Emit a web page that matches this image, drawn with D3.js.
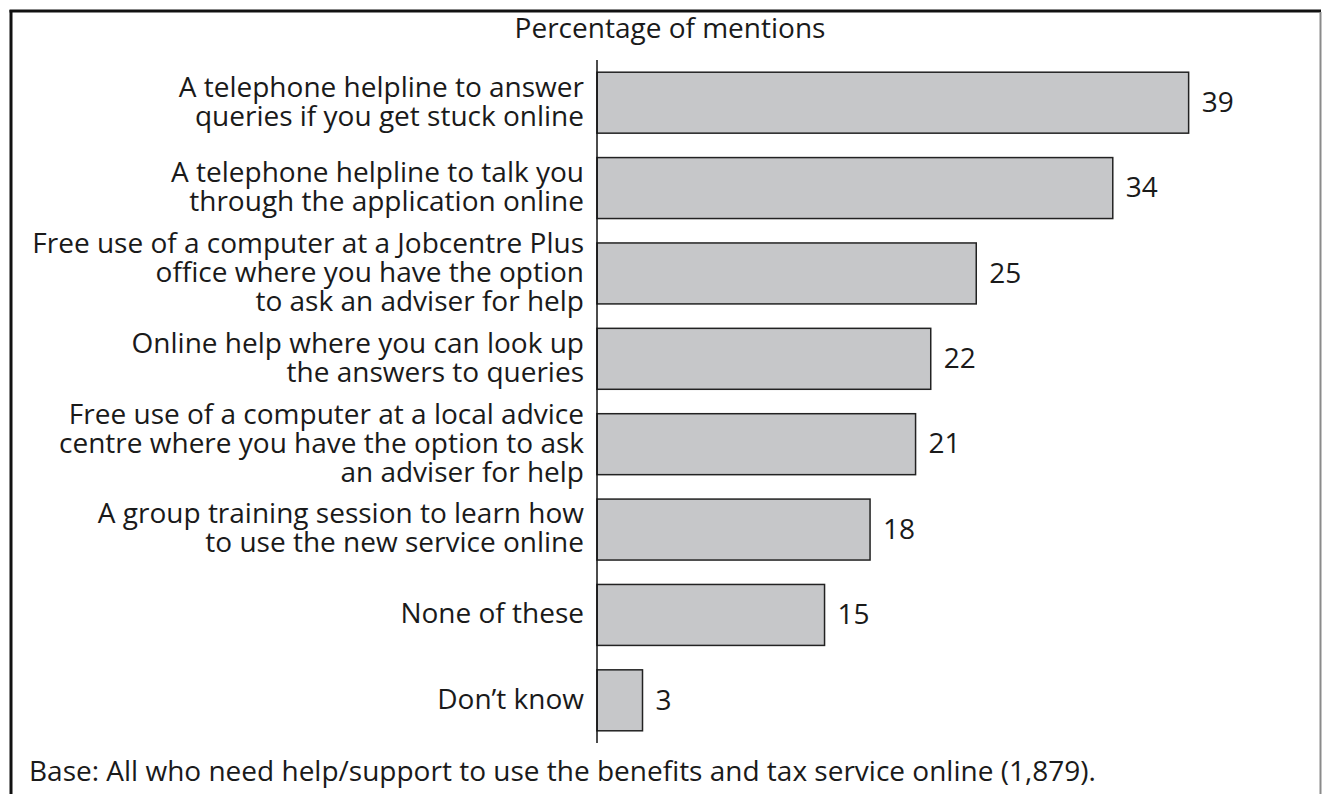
<!DOCTYPE html>
<html>
<head>
<meta charset="utf-8">
<script src="https://cdn.jsdelivr.net/npm/d3@7"></script>
<style>
  html, body { margin: 0; padding: 0; background: #fff; }
  svg { display: block; }
  text { font-family: "Open Sans", sans-serif; fill: #1a1a1a; }
</style>
</head>
<body>
<svg id="chart" width="1322" height="794"></svg>
<script>
// ---- data ----
const categories = [
  "A telephone helpline to answer\nqueries if you get stuck online",
  "A telephone helpline to talk you\nthrough the application online",
  "Free use of a computer at a Jobcentre Plus\noffice where you have the option\nto ask an adviser for help",
  "Online help where you can look up\nthe answers to queries",
  "Free use of a computer at a local advice\ncentre where you have the option to ask\nan adviser for help",
  "A group training session to learn how\nto use the new service online",
  "None of these",
  "Don\u2019t know"
];
const values = [39, 34, 25, 22, 21, 18, 15, 3];
const title = "Percentage of mentions";
const baseNote = "Base: All who need help/support to use the benefits and tax service online (1,879).";

// ---- layout ----
const svg = d3.select("#chart");
const W = 1322, H = 794;
const x0 = 597, yTop = 60, yBot = 743;
const pxPerUnit = 15.17;

const x = d3.scaleLinear().domain([0, 39]).range([x0, x0 + 39 * pxPerUnit]);
const y = d3.scaleBand().domain(categories).range([yTop, yBot])
  .paddingInner(0.286).paddingOuter(0.143);

// frame
svg.append("line").attr("x1", 11).attr("x2", 11).attr("y1", 10).attr("y2", H)
  .attr("stroke", "#111").attr("stroke-width", 3);
svg.append("line").attr("x1", 9.5).attr("x2", 1321).attr("y1", 11).attr("y2", 11)
  .attr("stroke", "#111").attr("stroke-width", 3);
svg.append("line").attr("x1", 1320.5).attr("x2", 1320.5).attr("y1", 12).attr("y2", H)
  .attr("stroke", "#8a8a8a").attr("stroke-width", 2);

// title
svg.append("text").attr("x", 670).attr("y", 38).attr("text-anchor", "middle")
  .attr("font-size", 28).text(title);

// bars
svg.append("g").selectAll("rect").data(values).join("rect")
  .attr("x", x(0))
  .attr("y", (d, i) => y(categories[i]))
  .attr("width", d => x(d) - x(0))
  .attr("height", y.bandwidth())
  .attr("fill", "#c6c7c9")
  .attr("stroke", "#222")
  .attr("stroke-width", 1.5);

// value labels
svg.append("g").selectAll("text").data(values).join("text")
  .attr("x", d => x(d) + 13)
  .attr("y", (d, i) => y(categories[i]) + y.bandwidth() / 2)
  .attr("dy", "0.33em")
  .attr("font-size", 28)
  .text(d => d);

// y axis (line only, no ticks)
const yAxis = d3.axisLeft(y).tickSize(0).tickFormat("");
const ag = svg.append("g").attr("transform", `translate(${x0},0)`).call(yAxis);
ag.select(".domain").attr("stroke", "#111").attr("stroke-width", 1.5)
  .attr("d", `M0,${yTop}V${yBot}`);

// category labels
const lineH = 29;
const lg = svg.append("g");
categories.forEach((c, i) => {
  const lines = c.split("\n");
  const cy = y(c) + y.bandwidth() / 2;
  const t = lg.append("text").attr("text-anchor", "end").attr("font-size", 28);
  lines.forEach((ln, k) => {
    t.append("tspan").attr("x", 584)
      .attr("y", cy + (k - (lines.length - 1) / 2) * lineH)
      .attr("dy", "0.3em").text(ln);
  });
});

// base note
svg.append("text").attr("x", 29).attr("y", 781).attr("font-size", 28).text(baseNote);
</script>
</body>
</html>
